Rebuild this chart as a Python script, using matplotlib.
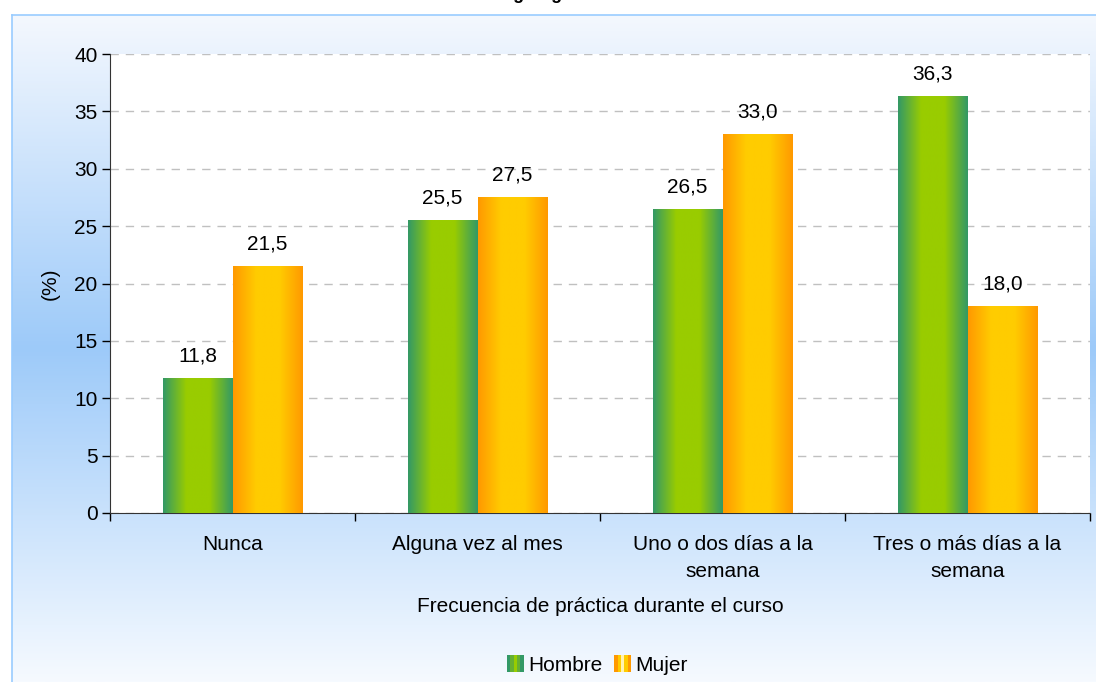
import numpy as np
import matplotlib
matplotlib.use("Agg")
import matplotlib.pyplot as plt
from matplotlib.colors import LinearSegmentedColormap
from matplotlib.legend_handler import HandlerBase
from matplotlib.patches import Rectangle

plt.rcParams['font.family'] = ['Liberation Sans', 'DejaVu Sans']

# Datos
categorias = ["Nunca", "Alguna vez al mes", "Uno o dos días a la\nsemana", "Tres o más días a la\nsemana"]
hombre = [11.8, 25.5, 26.5, 36.3]
mujer = [21.5, 27.5, 33.0, 18.0]
series = ["Hombre", "Mujer"]
y_ticks = [0, 5, 10, 15, 20, 25, 30, 35, 40]

FS = 15
W, H = 1096, 682
fig = plt.figure(figsize=(W / 100, H / 100), dpi=100)
fig.patch.set_facecolor("white")

# Fondo con degradado vertical
bg = fig.add_axes([12 / W, 0, 1 - 12 / W, 1 - 15 / H], zorder=-5)
bg_cmap = LinearSegmentedColormap.from_list(
    "fondo", [(0, "#f6faff"), (0.5, "#9dcaf9"), (1, "#f4f8fe")])
grad = np.linspace(0, 1, 256).reshape(-1, 1)
bg.imshow(grad, cmap=bg_cmap, aspect="auto", extent=[0, 1, 0, 1], origin="lower")
bg.set_xlim(0, 1)
bg.set_ylim(0, 1)
bg.set_xticks([])
bg.set_yticks([])
for s in ["right", "bottom"]:
    bg.spines[s].set_visible(False)
for s in ["left", "top"]:
    bg.spines[s].set_color("#99ccff")
    bg.spines[s].set_linewidth(1.2)

# Titulo (recortado en la parte superior, como en la imagen original)
fig.text(0.503, 1.0 + 1 / H, "Según género", ha="center", va="baseline",
         fontsize=13, fontweight="bold")

ax = fig.add_axes([110 / W, (H - 513) / H, (1090 - 110) / W, (513 - 54) / H])
ax.set_facecolor("white")

x = np.arange(len(categorias))
w = 0.285
verde = LinearSegmentedColormap.from_list("verde", ["#339966", "#99cc00", "#99cc00", "#339966"])
naranja = LinearSegmentedColormap.from_list("naranja", ["#ff9900", "#ffcc00", "#ffcc00", "#ff9900"])

barras_h = ax.bar(x - w / 2, hombre, w, color="#66aa33", zorder=2)
barras_m = ax.bar(x + w / 2, mujer, w, color="#ffb300", zorder=2)

hgrad = np.linspace(0, 1, 200).reshape(1, -1)
for barras, cmap in [(barras_h, verde), (barras_m, naranja)]:
    for b in barras:
        bx, by = b.get_x(), b.get_y()
        bw, bh = b.get_width(), b.get_height()
        im = ax.imshow(hgrad, cmap=cmap, aspect="auto",
                       extent=[bx, bx + bw, by, by + bh], zorder=3)
        im.set_clip_path(b)
        ax.annotate(f"{bh:.1f}".replace(".", ","), (bx + bw / 2, bh),
                    xytext=(0, 9), textcoords="offset points",
                    ha="center", va="bottom", fontsize=FS, zorder=4)

ax.set_xlim(-0.5, len(categorias) - 0.5)
ax.set_ylim(0, 40)
ax.set_yticks(y_ticks)
ax.tick_params(axis="y", labelsize=FS, length=6, width=1, direction="out", pad=3)
ax.set_xticks(x)
ax.set_xticklabels(categorias, fontsize=FS, linespacing=1.5)
ax.tick_params(axis="x", length=0, pad=16)
ax.set_xticks(np.arange(len(categorias) + 1) - 0.5, minor=True)
ax.tick_params(axis="x", which="minor", length=6, width=1, direction="out")
ax.grid(axis="y", color="#c0c0c0", linestyle=(0, (6, 5)), linewidth=1, zorder=0)
for s in ["top", "right"]:
    ax.spines[s].set_visible(False)
for s in ["left", "bottom"]:
    ax.spines[s].set_color("#333333")
ax.set_ylabel("(%)", fontsize=FS, labelpad=10)
ax.set_xlabel("Frecuencia de práctica durante el curso", fontsize=FS, labelpad=12)


class HandlerDegradado(HandlerBase):
    def __init__(self, colores):
        super().__init__()
        self.colores = colores

    def create_artists(self, legend, orig_handle, xdescent, ydescent, width, height, fontsize, trans):
        n = len(self.colores)
        size = height * 1.05
        x0 = -xdescent + width - size
        arts = []
        for i, c in enumerate(self.colores):
            r = Rectangle((x0 + i * size / n, -ydescent - 0.05 * height), size / n, size,
                          facecolor=c, edgecolor="none", transform=trans)
            arts.append(r)
        return arts


h1 = Rectangle((0, 0), 1, 1)
h2 = Rectangle((0, 0), 1, 1)
fig.legend([h1, h2], series, loc="center", bbox_to_anchor=(0.545, 1 - 665 / H),
           ncol=2, frameon=False, fontsize=FS, handlelength=0.8, handleheight=0.8,
           handletextpad=0.2, columnspacing=0.6, borderpad=0,
           handler_map={h1: HandlerDegradado(["#339966", "#66b033", "#99cc00", "#66b033", "#339966"]),
                        h2: HandlerDegradado(["#ff9900", "#ffcc00", "#fff2b0", "#ffcc00", "#ff9900"])})

fig.savefig("out.png", dpi=100)
